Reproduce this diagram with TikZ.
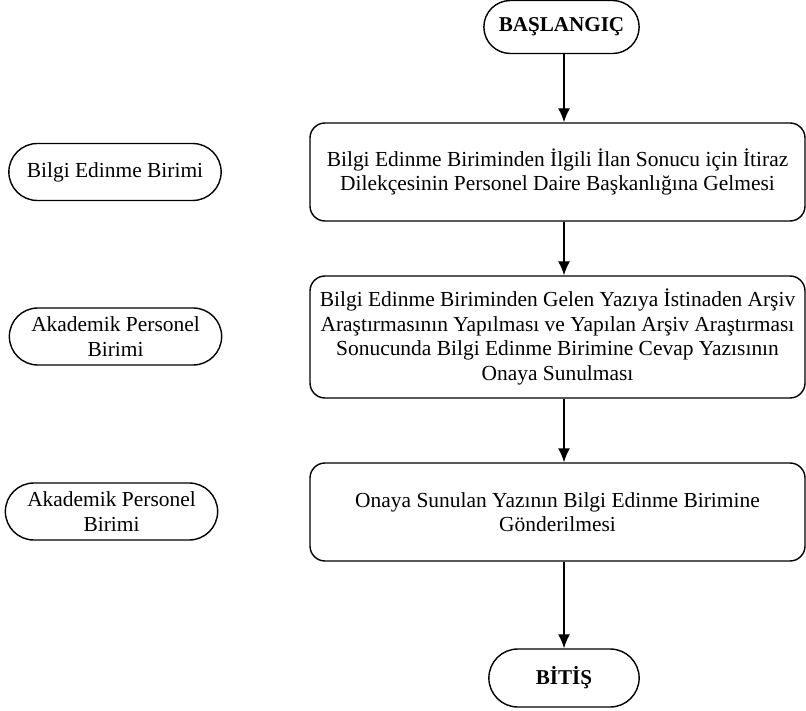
\documentclass[tikz,border=0pt]{standalone}
\usepackage{fontspec}
\setmainfont{Liberation Serif}
\usetikzlibrary{shapes.misc}
\usetikzlibrary{arrows.meta}

\tikzset{
	terminal/.style={draw, line width=0.8pt, rounded rectangle, minimum width=3.24cm, minimum height=1.06cm, font=\fontsize{12}{14}\selectfont\bfseries},
	unit/.style={draw, line width=0.8pt, rounded rectangle, minimum width=4.48cm, minimum height=1.14cm, align=center, font=\fontsize{12.2}{14}\selectfont},
	process/.style={draw, line width=0.8pt, rounded corners=0.3cm, minimum width=9.9cm, minimum height=1.96cm, align=center, font=\fontsize{12.2}{14}\selectfont},
	flow/.style={line width=0.8pt, -{Latex[length=0.28cm,width=0.24cm]}}
}

\begin{document}
\begin{tikzpicture}

	\useasboundingbox (0,0) rectangle (16.12,14.2);

	% start and end
	\node[terminal, minimum width=3.34cm] (start) at (11.23,13.66) {BAŞLANGIÇ};
	\node[terminal, minimum height=1.16cm] (stop) at (11.28,0.64) {BİTİŞ};

	% steps
	\node[process] (step1) at (11.15,10.76) {Bilgi Edinme Biriminden İlgili İlan Sonucu için İtiraz\\Dilekçesinin Personel Daire Başkanlığına Gelmesi};
	\node[process, minimum height=2.44cm] (step2) at (11.15,7.46) {Bilgi Edinme Biriminden Gelen Yazıya İstinaden Arşiv\\Araştırmasının Yapılması ve Yapılan Arşiv Araştırması\\Sonucunda Bilgi Edinme Birimine Cevap Yazısının\\Onaya Sunulması};
	\node[process] (step3) at (11.15,3.96) {Onaya Sunulan Yazının Bilgi Edinme Birimine\\Gönderilmesi};

	% responsible units
	\node[unit] (unit1) at (2.30,10.76) {Bilgi Edinme Birimi};
	\node[unit] (unit2) at (2.31,7.47) {Akademik Personel\\Birimi};
	\node[unit] (unit3) at (2.23,3.97) {Akademik Personel\\Birimi};

	% arrows
	\draw[flow] (stop.north |- start.south) -- (stop.north |- step1.north);
	\draw[flow] (stop.north |- step1.south) -- (stop.north |- step2.north);
	\draw[flow] (stop.north |- step2.south) -- (stop.north |- step3.north);
	\draw[flow] (stop.north |- step3.south) -- (stop.north);

\end{tikzpicture}
\end{document}
